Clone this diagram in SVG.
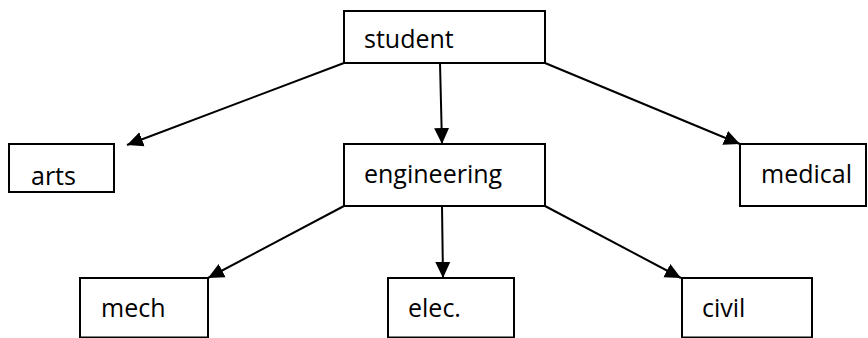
<svg xmlns="http://www.w3.org/2000/svg" width="868" height="338" viewBox="0 0 868 338">
  <defs>
    <marker id="arrow" markerUnits="userSpaceOnUse" markerWidth="17" markerHeight="17" viewBox="0 0 17 17" refX="16" refY="8.5" orient="auto">
      <path d="M0,1 L16,8.5 L0,16 Z" fill="#000"/>
    </marker>
    <style>
      .box { fill: #fff; stroke: #000; stroke-width: 2; }
      .lbl { font-family: "Open Sans", "Lato", "Liberation Sans", sans-serif; font-size: 25px; fill: #000; }
      .edge { stroke: #000; stroke-width: 2; fill: none; marker-end: url(#arrow); }
    </style>
  </defs>
  <rect width="868" height="338" fill="#fff"/>

  <g id="connectors">
    <line class="edge" x1="344" y1="63" x2="127" y2="145"/>
    <line class="edge" x1="440" y1="63" x2="442" y2="144"/>
    <line class="edge" x1="545" y1="63" x2="740" y2="144"/>
    <line class="edge" x1="344" y1="206" x2="208" y2="278"/>
    <line class="edge" x1="442" y1="206" x2="443" y2="278"/>
    <line class="edge" x1="545" y1="206" x2="681" y2="278"/>
  </g>

  <g id="student">
    <rect class="box" x="344" y="11" width="201" height="52"/>
    <text class="lbl" x="364" y="48">student</text>
  </g>
  <g id="arts">
    <rect class="box" x="9" y="144" width="105" height="48"/>
    <text class="lbl" x="31" y="185">arts</text>
  </g>
  <g id="engineering">
    <rect class="box" x="344" y="144" width="201" height="62"/>
    <text class="lbl" x="364" y="183">engineering</text>
  </g>
  <g id="medical">
    <rect class="box" x="740" y="144" width="126" height="62"/>
    <text class="lbl" x="761" y="183">medical</text>
  </g>
  <g id="mech">
    <rect class="box" x="80" y="278" width="128" height="59.5"/>
    <text class="lbl" x="101" y="317">mech</text>
  </g>
  <g id="elec">
    <rect class="box" x="388" y="278" width="126" height="59.5"/>
    <text class="lbl" x="408" y="317">elec.</text>
  </g>
  <g id="civil">
    <rect class="box" x="682" y="278" width="130" height="59.5"/>
    <text class="lbl" x="702" y="317">civil</text>
  </g>
</svg>
